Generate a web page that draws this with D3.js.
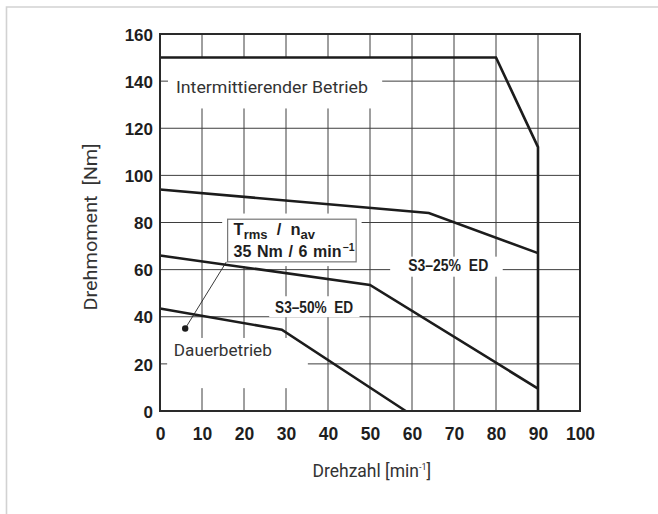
<!DOCTYPE html>
<html>
<head>
<meta charset="utf-8">
<script src="https://cdn.jsdelivr.net/npm/d3@7"></script>
<style>
  html, body { margin: 0; padding: 0; background: #fff; }
  svg { display: block; }
  text { white-space: pre; }
</style>
</head>
<body>
<svg id="chart" width="658" height="514"></svg>
<script>
// Axis ticks
const xTickValues = [0, 10, 20, 30, 40, 50, 60, 70, 80, 90, 100];
const yTickValues = [0, 20, 40, 60, 80, 100, 120, 140, 160];

// Torque limit curves: speed [min^-1] and torque [Nm]
const intermittentSpeed  = [0, 80, 90, 90];
const intermittentTorque = [150, 150, 112, 0];

const s3_25Speed  = [0, 64, 90];
const s3_25Torque = [94, 84, 67];

const s3_50Speed  = [0, 50, 90];
const s3_50Torque = [66, 53.5, 9.5];

const continuousSpeed  = [0, 29, 58.5];
const continuousTorque = [43.5, 34.5, 0];

// Operating point: T_rms / n_av
const rmsPointSpeed  = [6];
const rmsPointTorque = [35];

const svg = d3.select("#chart");
const W = 658, H = 514;
const plot = { left: 160, right: 580, top: 34, bottom: 411 };

const x = d3.scaleLinear().domain([0, 100]).range([plot.left, plot.right]);
const y = d3.scaleLinear().domain([0, 160]).range([plot.bottom, plot.top]);

// Light page frame
svg.append("path")
  .attr("d", `M6.5,${H} L6.5,7 L${W},7`)
  .attr("fill", "none").attr("stroke", "#d2d2d2").attr("stroke-width", 1.6);

// Grid
const grid = svg.append("g").attr("stroke", "#3e3e3e").attr("stroke-width", 1);
grid.selectAll("line.v").data(xTickValues.slice(1, -1)).join("line")
  .attr("x1", d => x(d)).attr("x2", d => x(d))
  .attr("y1", plot.top).attr("y2", plot.bottom);
grid.selectAll("line.h").data(yTickValues.slice(1, -1)).join("line")
  .attr("x1", plot.left).attr("x2", plot.right)
  .attr("y1", d => y(d)).attr("y2", d => y(d));

// White panels that clear the grid behind the annotations
const clearBoxes = [
  { x0: 1.9, x1: 52.9, y0: 149.8, y1: 128.4 },   // Intermittierender Betrieb
  { x0: 1.7, x1: 35.2, y0: 31.0,  y1: 9.7 },     // Dauerbetrieb
  { x0: 14.8, x1: 48.0, y0: 83.8, y1: 61.5 },    // T_rms box
  { x0: 26.0, x1: 47.5, y0: 48.7, y1: 39.8 },    // S3-50% ED
  { x0: 54.8, x1: 81.6, y0: 65.5, y1: 57.0 }     // S3-25% ED
];
svg.append("g").selectAll("rect").data(clearBoxes).join("rect")
  .attr("x", d => x(d.x0)).attr("y", d => y(d.y0))
  .attr("width", d => x(d.x1) - x(d.x0))
  .attr("height", d => y(d.y1) - y(d.y0))
  .attr("fill", "#fff");

// Curves
const line = d3.line().x(d => x(d[0])).y(d => y(d[1]));
const curves = [
  d3.zip(intermittentSpeed, intermittentTorque),
  d3.zip(s3_25Speed, s3_25Torque),
  d3.zip(s3_50Speed, s3_50Torque),
  d3.zip(continuousSpeed, continuousTorque)
];
svg.append("g").selectAll("path").data(curves).join("path")
  .attr("d", line)
  .attr("fill", "none")
  .attr("stroke", "#1c1c1c")
  .attr("stroke-width", 2.6)
  .attr("stroke-linejoin", "miter");

// Plot frame
svg.append("rect")
  .attr("x", plot.left).attr("y", plot.top)
  .attr("width", plot.right - plot.left).attr("height", plot.bottom - plot.top)
  .attr("fill", "none").attr("stroke", "#2a2a2a").attr("stroke-width", 2);

// Axes (labels only, the frame and grid carry the lines)
const xAxis = d3.axisBottom(x).tickValues(xTickValues).tickSize(0).tickPadding(0);
const yAxis = d3.axisLeft(y).tickValues(yTickValues).tickSize(0).tickPadding(0);

const gx = svg.append("g").attr("transform", `translate(0,${plot.bottom})`).call(xAxis);
gx.select(".domain").remove();
gx.selectAll("text")
  .attr("y", 29).attr("dy", null)
  .attr("font-family", "'Liberation Sans', Arial, sans-serif")
  .attr("font-weight", "bold").attr("font-size", 17.5).attr("fill", "#1e1e1e");

const gy = svg.append("g").attr("transform", `translate(${plot.left},0)`).call(yAxis);
gy.select(".domain").remove();
gy.selectAll("text")
  .attr("x", -7).attr("dy", "0.36em")
  .attr("font-family", "'Liberation Sans', Arial, sans-serif")
  .attr("font-weight", "bold").attr("font-size", 17).attr("fill", "#1e1e1e");

// Axis titles
const titleFont = "Roboto, 'Noto Sans', sans-serif";
svg.append("text")
  .attr("x", 312.5).attr("y", 477)
  .attr("font-family", titleFont).attr("font-size", 17.5).attr("fill", "#333")
  .text("Drehzahl [min")
  .append("tspan").attr("font-size", 9).attr("dy", -7).text("-1")
  .select(function () { return this.parentNode; })
  .append("tspan").attr("dy", 7).text("]");

svg.append("text")
  .attr("transform", "translate(97,227) rotate(-90)")
  .attr("text-anchor", "middle")
  .attr("font-family", titleFont).attr("font-size", 18.5).attr("fill", "#333")
  .attr("textLength", 167).attr("lengthAdjust", "spacingAndGlyphs")
  .text("Drehmoment  [Nm]");

// Region labels
const labelFont = titleFont;
svg.append("text")
  .attr("x", x(3.8)).attr("y", 92.7)
  .attr("font-family", labelFont).attr("font-size", 16.5).attr("fill", "#333")
  .attr("textLength", 192).attr("lengthAdjust", "spacingAndGlyphs")
  .text("Intermittierender Betrieb");

svg.append("text")
  .attr("x", x(3.3)).attr("y", 355.7)
  .attr("font-family", labelFont).attr("font-size", 17).attr("fill", "#333")
  .attr("textLength", 98).attr("lengthAdjust", "spacingAndGlyphs")
  .text("Dauerbetrieb");

const boldFont = "'Liberation Sans', Arial, sans-serif";
svg.append("text")
  .attr("x", x(27.4)).attr("y", 312.7)
  .attr("font-family", boldFont).attr("font-weight", "bold")
  .attr("font-size", 16).attr("fill", "#1e1e1e")
  .attr("textLength", 78).attr("lengthAdjust", "spacingAndGlyphs")
  .text("S3\u201350%  ED");

svg.append("text")
  .attr("x", x(59.1)).attr("y", 271)
  .attr("font-family", boldFont).attr("font-weight", "bold")
  .attr("font-size", 16).attr("fill", "#1e1e1e")
  .attr("textLength", 80).attr("lengthAdjust", "spacingAndGlyphs")
  .text("S3\u201325%  ED");

// Operating point with its note box
const box = { x0: 16.1, x1: 46.7, y0: 81.4, y1: 63.3 };
svg.append("rect")
  .attr("x", x(box.x0)).attr("y", y(box.y0))
  .attr("width", x(box.x1) - x(box.x0)).attr("height", y(box.y1) - y(box.y0))
  .attr("fill", "#fff").attr("stroke", "#777").attr("stroke-width", 1.2);

svg.append("line")
  .attr("x1", x(rmsPointSpeed[0])).attr("y1", y(rmsPointTorque[0]))
  .attr("x2", x(15.8)).attr("y2", y(box.y1))
  .attr("stroke", "#222").attr("stroke-width", 0.9);

svg.append("circle")
  .attr("cx", x(rmsPointSpeed[0])).attr("cy", y(rmsPointTorque[0]))
  .attr("r", 3.2).attr("fill", "#1c1c1c");

const note = svg.append("g")
  .attr("font-family", boldFont).attr("font-weight", "bold").attr("fill", "#1e1e1e");
const tx = x(box.x0) + 6;
const l1 = note.append("text").attr("x", tx).attr("y", 234.5).attr("font-size", 16.5);
l1.append("tspan").text("T");
l1.append("tspan").attr("font-size", 13).attr("dy", 4).text("rms");
l1.append("tspan").attr("dy", -4).text("  /  n");
l1.append("tspan").attr("font-size", 13).attr("dy", 4).text("av");

// Second line with the unit exponent raised as a superscript
const l2 = note.append("text").attr("x", tx).attr("y", 257)
  .attr("font-size", 16).attr("word-spacing", 1.2);
l2.append("tspan").text("35 Nm / 6 min");
l2.append("tspan").attr("font-size", 10.5).attr("dx", 1).attr("dy", -6.5).text("\u22121");
</script>
</body>
</html>
